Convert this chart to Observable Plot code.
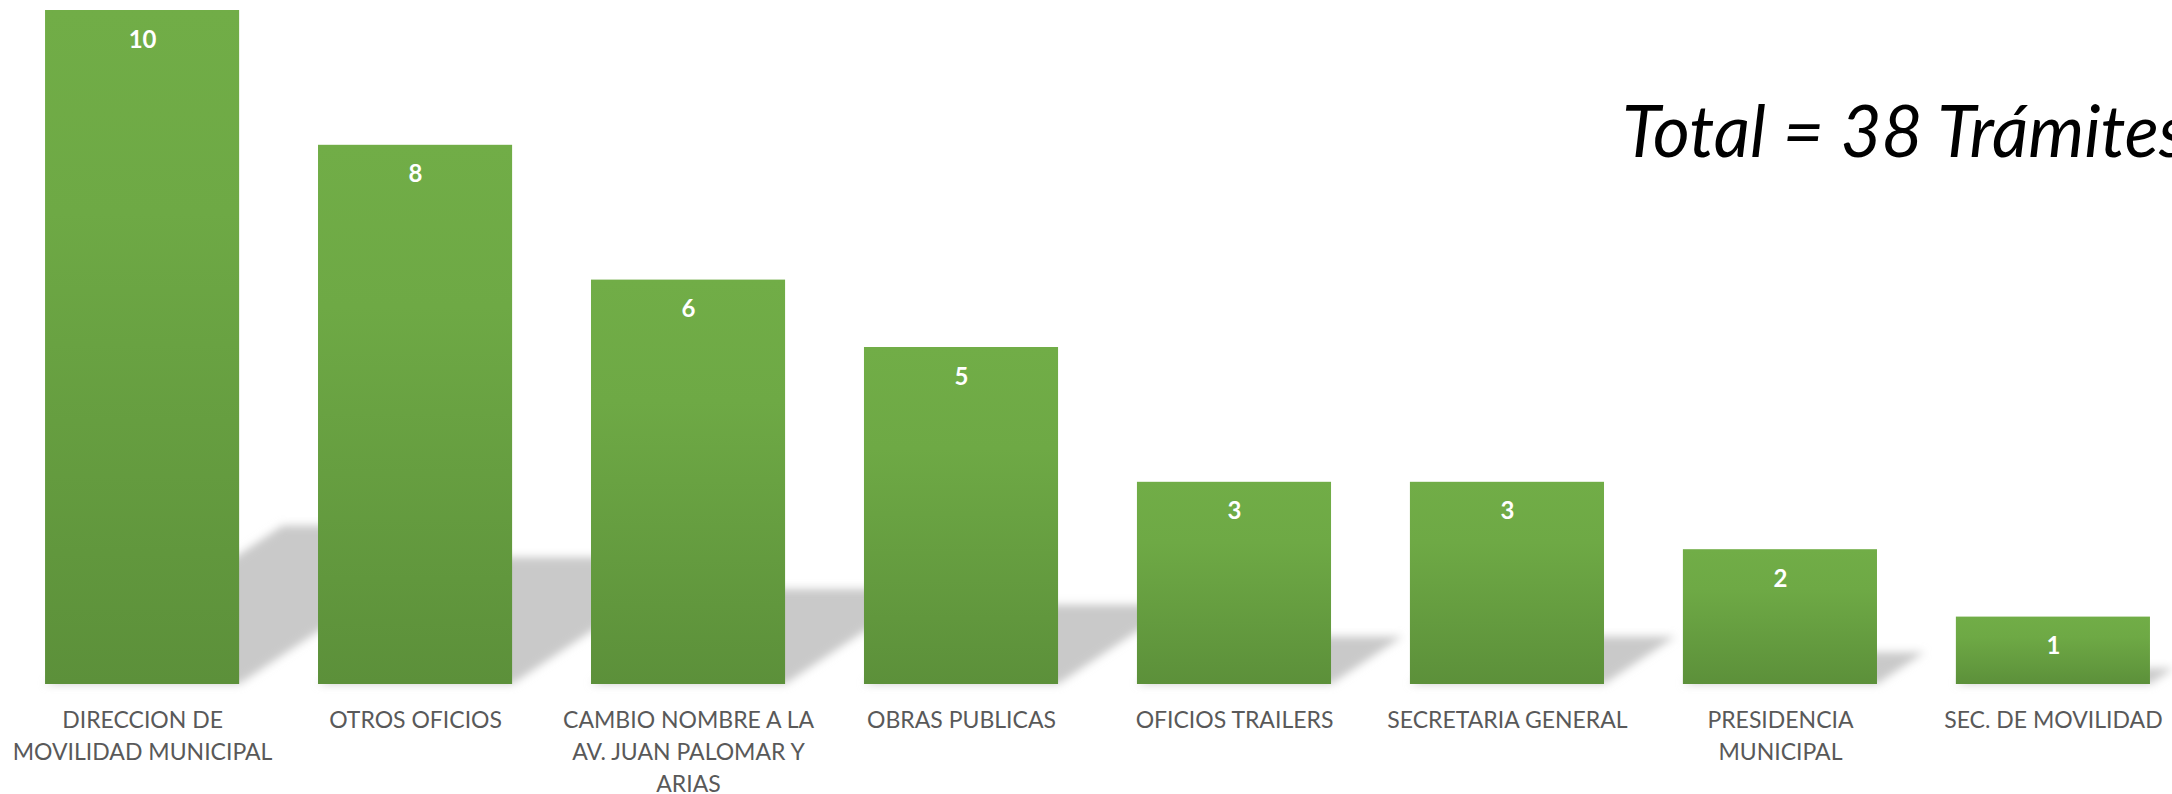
<!DOCTYPE html>
<html>
<head>
<meta charset="utf-8">
<script src="https://cdn.jsdelivr.net/npm/d3@7"></script>
<script src="https://cdn.jsdelivr.net/npm/@observablehq/plot@0.6"></script>
<style>
  html, body { margin: 0; padding: 0; background: #ffffff; overflow: hidden; }
  #wrap { position: relative; width: 2172px; height: 794px; overflow: hidden; background: #ffffff; }
  #wrap svg { display: block; }
  #total {
    position: absolute; left: 1622px; top: 94px;
    font-family: Lato, "Open Sans", sans-serif; font-style: italic; font-size: 71px;
    line-height: 1; white-space: nowrap; color: #000000;
  }
</style>
</head>
<body>
<div id="wrap"><div id="total"></div></div>
<script>
// ---- data ----
const categories = [
  "DIRECCION DE MOVILIDAD MUNICIPAL",
  "OTROS OFICIOS",
  "CAMBIO NOMBRE A LA AV. JUAN PALOMAR Y ARIAS",
  "OBRAS PUBLICAS",
  "OFICIOS TRAILERS",
  "SECRETARIA GENERAL",
  "PRESIDENCIA MUNICIPAL",
  "SEC. DE MOVILIDAD"
];
const values = [10, 8, 6, 5, 3, 3, 2, 1];
const tickLabels = [
  "DIRECCION DE\nMOVILIDAD MUNICIPAL",
  "OTROS OFICIOS",
  "CAMBIO NOMBRE A LA\nAV. JUAN PALOMAR Y\nARIAS",
  "OBRAS PUBLICAS",
  "OFICIOS TRAILERS",
  "SECRETARIA GENERAL",
  "PRESIDENCIA\nMUNICIPAL",
  "SEC. DE MOVILIDAD"
];
const totalText = "Total = 38 Trámites";

// ---- build ----
const shadowRatio = 0.235;   // shadow length relative to bar height (decoration)
const shadowSkew = 1.5;      // horizontal shift of shadow per unit of its height

const data = categories.map((c, i) => ({
  category: c,
  value: values[i],
  label: tickLabels[i],
  shadow: values[i] * shadowRatio
}));

document.getElementById("total").textContent = totalText;

const chart = Plot.plot({
  width: 2172,
  height: 794,
  marginTop: 10,
  marginBottom: 110,
  marginLeft: 0,
  marginRight: 0,
  style: { background: "transparent", overflow: "hidden" },
  x: { domain: categories, range: [0, 2195], paddingInner: 0.289, paddingOuter: 0.165, round: false, axis: null },
  y: { domain: [0, 10], axis: null },
  marks: [
    Plot.barY(data, { x: "category", y: "shadow", fill: "#c9c9c9" }),
    Plot.barY(data, { x: "category", y: "value", fill: "url(#barGrad)" }),
    Plot.text(data, {
      x: "category", y: "value", text: d => String(d.value),
      dy: 29.5, fill: "#ffffff", fontWeight: "bold", fontSize: 24,
      fontFamily: "Lato, 'Open Sans', sans-serif"
    }),
    Plot.text(data, {
      x: "category", y: () => 0, text: "label",
      lineAnchor: "top", dy: 21, lineHeight: 1.38,
      fill: "#595959", fontSize: 23,
      fontFamily: "Lato, 'Open Sans', sans-serif"
    })
  ]
});

const wrap = document.getElementById("wrap");
wrap.insertBefore(chart, wrap.firstChild);

// gradient + blur definitions
const svg = d3.select(chart);
const defs = svg.insert("defs", ":first-child");
const grad = defs.append("linearGradient").attr("id", "barGrad")
  .attr("x1", 0).attr("y1", 0).attr("x2", 0).attr("y2", 1);
grad.append("stop").attr("offset", "0%").attr("stop-color", "#71ad47");
grad.append("stop").attr("offset", "30%").attr("stop-color", "#6ea945");
grad.append("stop").attr("offset", "100%").attr("stop-color", "#5c903a");
const filt = defs.append("filter").attr("id", "shadowBlur")
  .attr("filterUnits", "userSpaceOnUse")
  .attr("x", -50).attr("y", -50).attr("width", 2300).attr("height", 900);
filt.append("feGaussianBlur").attr("stdDeviation", 4.5);

// skew the shadow bars along the baseline (perspective shadow)
const barGroups = chart.querySelectorAll('g[aria-label="bar"]');
const shadowG = barGroups[0];
const firstRect = shadowG.querySelector("rect");
const base = +firstRect.getAttribute("y") + +firstRect.getAttribute("height");
const outer = document.createElementNS("http://www.w3.org/2000/svg", "g");
outer.setAttribute("filter", "url(#shadowBlur)");
shadowG.parentNode.insertBefore(outer, shadowG);
outer.appendChild(shadowG);
shadowG.setAttribute("transform", `matrix(1,0,${-shadowSkew},1,${shadowSkew * base},0)`);
</script>
</body>
</html>
